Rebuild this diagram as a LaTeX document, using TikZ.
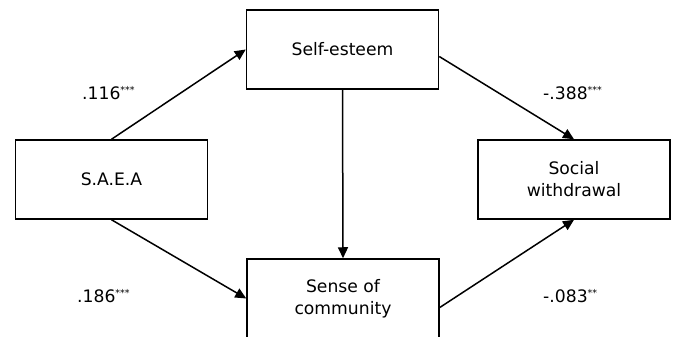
\documentclass[tikz,border=0pt]{standalone}
\usepackage{fontspec}
\setmainfont{DejaVu Sans}
\usetikzlibrary{arrows.meta,calc}
\newcommand{\sig}[1]{\raisebox{6pt}{\fontsize{9.5}{9.5}\selectfont #1}}
\begin{document}
\begin{tikzpicture}[x=1pt,y=1pt,
  box/.style={draw,line width=1.5pt,minimum width=192pt,minimum height=79pt,inner sep=0pt,align=center,font=\fontsize{17.2}{22}\selectfont},
  conn/.style={line width=1.5pt,-{Triangle[length=11pt,width=10pt]}},
  coef/.style={anchor=base west,inner sep=0pt,font=\fontsize{17.2}{20}\selectfont}]
\useasboundingbox (0,0) rectangle (675,337);
\node[box] (saea) at (111.5,157.5) {S.A.E.A};
\node[box] (se) at (342.5,287.5) {Self-esteem};
\node[box] (sw) at (574,157.5) {Social\\withdrawal};
\node[box] (sc) at (343,38.5) {Sense of\\community};
\draw[conn] (saea.north) -- (se.west);
\draw[conn] (saea.south) -- (sc.west);
\draw[conn] (se.south) -- (sc.north);
\draw[conn] ($(se.east)+(0,-7)$) -- (sw.north);
\draw[conn] ($(sc.east)+(0,-9)$) -- (sw.south);
\node[coef] (c1) at (82,237) {.116\sig{***}};
\node[coef] (c2) at (77,34) {.186\sig{***}};
\node[coef] (c3) at (543,237) {-.388\sig{***}};
\node[coef] (c4) at (543,34) {-.083\sig{**}};
\end{tikzpicture}
\end{document}
